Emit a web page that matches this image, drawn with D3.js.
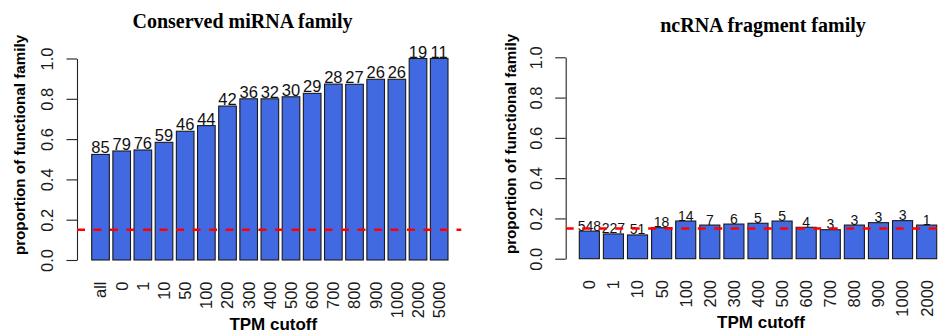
<!DOCTYPE html>
<html>
<head>
<meta charset="utf-8">
<script src="https://cdn.jsdelivr.net/npm/d3@7"></script>
<style>
  html, body { margin: 0; padding: 0; background: #fff; }
  svg { display: block; }
</style>
</head>
<body>
<svg id="chart" width="943" height="333"></svg>
<script>
// TPM cutoffs and per-cutoff results for conserved miRNA families
const mirnaCutoffs = ["all", "0", "1", "10", "50", "100", "200", "300", "400", "500", "600", "700", "800", "900", "1000", "2000", "5000"];
const mirnaProportion = [0.524, 0.541, 0.546, 0.584, 0.639, 0.667, 0.764, 0.800, 0.800, 0.810, 0.827, 0.873, 0.872, 0.897, 0.897, 1.000, 1.000];
const mirnaCounts = [85, 79, 76, 59, 46, 44, 42, 36, 32, 30, 29, 28, 27, 26, 26, 19, 11];

// TPM cutoffs and per-cutoff results for ncRNA fragment families
const fragCutoffs = ["0", "1", "10", "50", "100", "200", "300", "400", "500", "600", "700", "800", "900", "1000", "2000"];
const fragProportion = [0.137, 0.123, 0.118, 0.154, 0.187, 0.167, 0.172, 0.176, 0.187, 0.156, 0.144, 0.167, 0.179, 0.189, 0.167];
const fragCounts = [548, 227, 51, 18, 14, 7, 6, 5, 5, 4, 3, 3, 3, 3, 1];

// background rate shown as a dashed reference line
const backgroundRate = 0.15;
const yTicks = [0, 0.2, 0.4, 0.6, 0.8, 1.0];

const svg = d3.select("#chart");
svg.append("rect").attr("width", 943).attr("height", 333).attr("fill", "#fff");

const SANS = "'Liberation Sans', Arial, Helvetica, sans-serif";
const SERIF = "'Liberation Serif', 'Times New Roman', serif";

function drawPanel(opt) {
  const g = svg.append("g");

  const x = d3.scaleBand()
    .domain(opt.categories)
    .range([opt.barLeft, opt.barRight])
    .paddingInner(1 / 6)
    .paddingOuter(0);

  const y = d3.scaleLinear().domain([0, 1]).range([opt.yBottom, opt.yTop]);

  // clip region for the reference line (plot area)
  const clipId = "clip-" + opt.id;
  svg.append("clipPath").attr("id", clipId)
    .append("rect")
    .attr("x", opt.plotLeft).attr("y", 0)
    .attr("width", opt.plotRight - opt.plotLeft).attr("height", 333);

  // bars
  g.selectAll("rect.bar")
    .data(opt.values)
    .join("rect")
    .attr("class", "bar")
    .attr("x", (d, i) => x(opt.categories[i]))
    .attr("y", d => y(d))
    .attr("width", x.bandwidth())
    .attr("height", d => y(0) - y(d))
    .attr("fill", "#4169E1")
    .attr("stroke", "#1a1a1a")
    .attr("stroke-width", 1.1);

  // count labels above bars
  g.selectAll("text.count")
    .data(opt.values)
    .join("text")
    .attr("class", "count")
    .attr("x", (d, i) => x(opt.categories[i]) + x.bandwidth() / 2)
    .attr("y", d => y(d) - opt.countLift)
    .attr("text-anchor", "middle")
    .attr("font-family", SANS)
    .attr("font-size", opt.countSize)
    .attr("fill", "#111")
    .text((d, i) => opt.counts[i]);

  // y axis
  const yAxis = d3.axisLeft(y)
    .tickValues(yTicks)
    .tickFormat(d3.format(".1f"))
    .tickSize(10.5)
    .tickSizeOuter(0);
  const ax = g.append("g")
    .attr("transform", `translate(${opt.axisX},0)`)
    .call(yAxis);
  ax.select(".domain").attr("stroke", "#222").attr("stroke-width", 1.1);
  ax.selectAll(".tick line").attr("stroke", "#222").attr("stroke-width", 1.1);
  ax.selectAll(".tick text")
    .attr("font-family", SANS)
    .attr("font-size", 16.5)
    .attr("fill", "#1a1a1a")
    .attr("text-anchor", "middle")
    .attr("x", null).attr("dy", null)
    .attr("transform", `translate(${opt.tickBaseX - opt.axisX},0) rotate(-90)`);

  // x category labels (vertical)
  g.selectAll("text.cat")
    .data(opt.categories)
    .join("text")
    .attr("class", "cat")
    .attr("transform", d => `translate(${x(d) + x.bandwidth() / 2 + 5.9},${opt.catTop}) rotate(-90)`)
    .attr("text-anchor", "end")
    .attr("font-family", SANS)
    .attr("font-size", 16.5)
    .attr("fill", "#1a1a1a")
    .text(d => d);

  // dashed reference line
  g.append("line")
    .attr("clip-path", `url(#${clipId})`)
    .attr("x1", opt.plotLeft).attr("x2", opt.plotRight)
    .attr("y1", y(backgroundRate)).attr("y2", y(backgroundRate))
    .attr("stroke", "#ff0000")
    .attr("stroke-width", 2.6)
    .attr("stroke-dasharray", "8,8.5");

  // titles
  g.append("text")
    .attr("x", opt.titleX).attr("y", opt.titleY)
    .attr("text-anchor", "middle")
    .attr("font-family", SERIF)
    .attr("font-weight", "bold")
    .attr("font-size", 20)
    .attr("fill", "#000")
    .text(opt.title);

  g.append("text")
    .attr("x", opt.xTitleX).attr("y", opt.xTitleY)
    .attr("text-anchor", "middle")
    .attr("font-family", SANS)
    .attr("font-weight", "bold")
    .attr("font-size", 17)
    .attr("fill", "#000")
    .text("TPM cutoff");

  g.append("text")
    .attr("transform", `translate(${opt.yTitleX},${opt.yTitleY}) rotate(-90)`)
    .attr("text-anchor", "middle")
    .attr("font-family", SANS)
    .attr("font-weight", "bold")
    .attr("font-size", 15.2)
    .attr("fill", "#000")
    .text("proportion of functional family");
}

drawPanel({
  id: "mirna",
  title: "Conserved miRNA family",
  categories: mirnaCutoffs,
  values: mirnaProportion,
  counts: mirnaCounts,
  barLeft: 91.7, barRight: 448.0,
  yBottom: 260, yTop: 58.5,
  axisX: 77, tickBaseX: 52.7,
  plotLeft: 77, plotRight: 461.5,
  catTop: 281.5,
  countSize: 16.5, countLift: 1,
  titleX: 242.5, titleY: 28.3,
  xTitleX: 273.3, xTitleY: 330,
  yTitleX: 25, yTitleY: 145
});

drawPanel({
  id: "frag",
  title: "ncRNA fragment family",
  categories: fragCutoffs,
  values: fragProportion,
  counts: fragCounts,
  barLeft: 579.3, barRight: 936.7,
  yBottom: 258.7, yTop: 57.3,
  axisX: 565.7, tickBaseX: 541.5,
  plotLeft: 565.7, plotRight: 943,
  catTop: 280,
  countSize: 14, countLift: 0.5,
  titleX: 763, titleY: 32.3,
  xTitleX: 761, xTitleY: 328.3,
  yTitleX: 516, yTitleY: 144
});
</script>
</body>
</html>
